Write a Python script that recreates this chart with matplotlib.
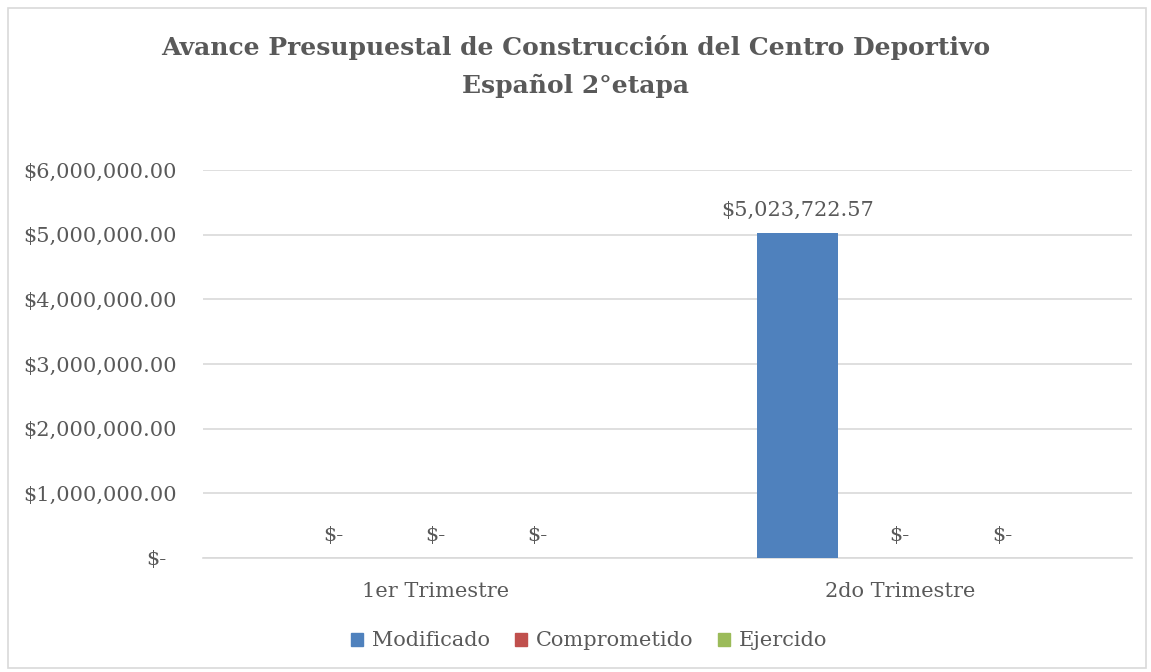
import matplotlib
matplotlib.use("Agg")
import matplotlib.pyplot as plt
from matplotlib.patches import Rectangle
from matplotlib.ticker import FuncFormatter
import matplotlib.transforms as mtransforms
import numpy as np

plt.rcParams['font.family'] = ['DejaVu Serif', 'Liberation Serif']

title_lines = ["Avance Presupuestal de Construcción del Centro Deportivo", "Español 2°etapa"]
categories = ["1er Trimestre", "2do Trimestre"]
series_names = ["Modificado", "Comprometido", "Ejercido"]
modificado = [0.0, 5023722.57]
comprometido = [0.0, 0.0]
ejercido = [0.0, 0.0]
colors = ["#4F81BD", "#C0504D", "#9BBB59"]
yticks = [0, 1000000, 2000000, 3000000, 4000000, 5000000, 6000000]

text_color = "#595959"
W, H = 1151, 672
fig = plt.figure(figsize=(W / 100, H / 100), dpi=100)
ax = fig.add_axes([203 / W, 1 - 558 / H, (1132 - 203) / W, (558 - 170) / H])

x = np.arange(len(categories))
offset = 0.22
width = 0.175
data = [modificado, comprometido, ejercido]
fs = 15

def fmt(v):
    if v == 0:
        return "$-"
    return "${:,.2f}".format(v)

for i, (name, vals, c) in enumerate(zip(series_names, data, colors)):
    pos = x + (i - 1) * offset
    ax.bar(pos, vals, width=width, color=c, label=name, zorder=3)
    for p, v in zip(pos, vals):
        ax.text(p, v + 200000, fmt(v), ha="center", va="bottom",
                fontsize=fs, color=text_color, zorder=4)

ax.set_xlim(-0.5, 1.5)
ax.set_ylim(0, 6000000)
ax.set_yticks(yticks)
ax.yaxis.set_major_formatter(FuncFormatter(lambda v, p: "$-" if v == 0 else "${:,.2f}".format(v)))
ax.set_xticks(x)
ax.set_xticklabels(categories)
ax.grid(axis="y", color="#D9D9D9", linewidth=1.2, zorder=0)
for s in ["top", "right", "left"]:
    ax.spines[s].set_visible(False)
ax.spines["bottom"].set_color("#D9D9D9")
ax.spines["bottom"].set_linewidth(1.2)
ax.tick_params(axis="both", length=0, labelsize=fs, labelcolor=text_color)
ax.tick_params(axis="y", pad=19)
ax.tick_params(axis="x", pad=17)
ylabels = ax.get_yticklabels()
ylabels[0].set_transform(ylabels[0].get_transform() +
                         mtransforms.ScaledTranslation(-10 / 100, 0, fig.dpi_scale_trans))

for line, ypx in zip(title_lines, [48, 86]):
    fig.text(0.5, 1 - ypx / H, line, ha="center", va="center", fontsize=18,
             fontweight="bold", color=text_color)

handles = [Rectangle((0, 0), 1, 1, color=c) for c in colors]
fig.legend(handles, series_names, loc="center", bbox_to_anchor=(589 / W, 1 - 641 / H),
           ncol=3, frameon=False, fontsize=fs, labelcolor=text_color,
           handlelength=0.6, handleheight=0.6, handletextpad=0.4, columnspacing=1.2)

fig.add_artist(Rectangle((8 / W, 4 / H), (1146 - 8) / W, (664 - 4) / H,
                         transform=fig.transFigure, fill=False,
                         edgecolor="#D9D9D9", linewidth=1.2))

fig.savefig("out.png", dpi=100)
